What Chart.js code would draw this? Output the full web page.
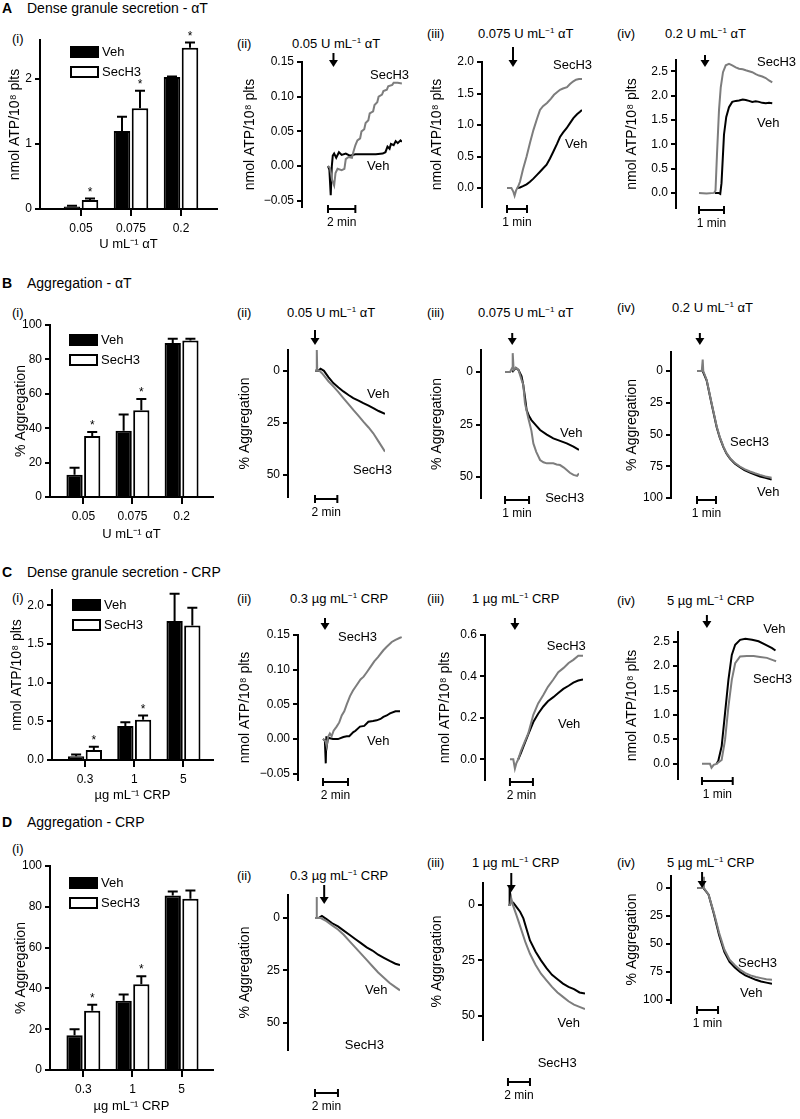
<!DOCTYPE html>
<html>
<head>
<meta charset="utf-8">
<title>SecH3 – dense granule secretion and aggregation</title>
<script src="https://cdn.jsdelivr.net/npm/chart.js@4.4.1/dist/chart.umd.min.js"></script>
<style>
  html, body { margin: 0; padding: 0; background: #fff; }
  body { position: relative; width: 800px; height: 1119px; overflow: hidden;
         font-family: "Liberation Sans", Arial, sans-serif; color: #000; }
  canvas { position: absolute; }
  .lbl { position: absolute; white-space: nowrap; font-size: 13px; line-height: 15px; transform: translateY(-50%); }
  .head { font-size: 14px; }
  .head b { display: inline-block; width: 25px; }
  sup { font-size: 8px; vertical-align: 5px; line-height: 0; }
</style>
</head>
<body>
<script>
const FONT = '"Liberation Sans", Arial, sans-serif';
const GREY = '#7d7d7d';
const TITLE_PX = 14, TICK_PX = 12;

// ---- bar chart data (mean, error) ----
const doseThrombin = ['0.05', '0.075', '0.2'];
const doseCRP = ['0.3', '1', '5'];

const atpThrVeh = [0.04, 1.20, 2.03];
const atpThrVehErr = [0.01, 0.22, 0.01];
const atpThrSec = [0.14, 1.55, 2.48];
const atpThrSecErr = [0.02, 0.27, 0.08];
const atpThrSig = [true, true, true];

const aggThrVeh = [13, 38.5, 89.5];
const aggThrVehErr = [4, 9.5, 2.5];
const aggThrSec = [35.5, 50.5, 91];
const aggThrSecErr = [2.3, 6.5, 1];
const aggThrSig = [true, true, false];

const atpCrpVeh = [0.05, 0.44, 1.80];
const atpCrpVehErr = [0.02, 0.05, 0.35];
const atpCrpSec = [0.13, 0.52, 1.74];
const atpCrpSecErr = [0.04, 0.055, 0.23];
const atpCrpSig = [true, true, false];

const aggCrpVeh = [17, 34, 85.5];
const aggCrpVehErr = [3, 3, 2];
const aggCrpSec = [29, 42, 84];
const aggCrpSecErr = [3, 4, 4];
const aggCrpSig = [true, true, false];

// ---- tick values ----
const ticksAtp012 = [0, 1, 2];
const ticksPct = [0, 20, 40, 60, 80, 100];
const ticksAtpSmall = [-0.05, 0, 0.05, 0.10, 0.15];
const ticksAtp2 = [0, 0.5, 1, 1.5, 2];
const ticksAtp25 = [0, 0.5, 1, 1.5, 2, 2.5];
const ticksAtp06 = [0, 0.2, 0.4, 0.6];
const ticksAgg50 = [0, 25, 50];
const ticksAgg100 = [0, 25, 50, 75, 100];

// ---- traces: [minutes, value] ----
const trA2Sec = [[0,0],[0.15,-0.003],[0.3,-0.02],[0.45,-0.028],[0.55,-0.01],[0.7,-0.004],[1.0,-0.006],[1.2,-0.004],[1.3,0.01],[1.5,0.013],[1.75,0.012],[1.85,0.02],[2.0,0.03],[2.15,0.037],[2.35,0.04],[2.45,0.05],[2.65,0.053],[2.75,0.062],[2.95,0.066],[3.05,0.076],[3.3,0.079],[3.4,0.088],[3.6,0.092],[3.7,0.1],[3.95,0.103],[4.05,0.108],[4.3,0.11],[4.4,0.115],[4.7,0.117],[4.8,0.12],[5.1,0.12],[5.4,0.119]];
const trA2Veh = [[0,0],[0.1,-0.005],[0.2,-0.042],[0.28,0.0],[0.35,0.015],[0.45,0.018],[0.6,0.012],[0.8,0.02],[1.0,0.016],[1.3,0.018],[1.6,0.015],[2.0,0.017],[2.5,0.017],[3.0,0.017],[3.5,0.017],[4.0,0.018],[4.2,0.02],[4.35,0.028],[4.5,0.025],[4.6,0.032],[4.8,0.03],[4.95,0.036],[5.1,0.033],[5.3,0.037],[5.4,0.035]];
const trA3Sec = [[0,0],[0.22,0],[0.32,-0.06],[0.38,-0.12],[0.45,-0.04],[0.55,0.02],[0.65,0.1],[0.8,0.3],[0.98,0.5],[1.15,0.72],[1.32,0.92],[1.5,1.1],[1.65,1.24],[1.8,1.3],[2.0,1.35],[2.2,1.42],[2.35,1.48],[2.5,1.52],[2.65,1.56],[2.8,1.58],[3.0,1.6],[3.15,1.65],[3.3,1.69],[3.45,1.72],[3.6,1.73],[3.75,1.73]];
const trA3Veh = [[0.5,0],[0.65,0.01],[0.8,0.03],[0.98,0.06],[1.15,0.1],[1.32,0.15],[1.5,0.21],[1.65,0.26],[1.8,0.31],[1.98,0.37],[2.15,0.47],[2.32,0.58],[2.5,0.7],[2.65,0.81],[2.8,0.88],[2.98,0.95],[3.15,1.03],[3.32,1.11],[3.5,1.17],[3.65,1.21],[3.75,1.24]];
const trA4Sec = [[0,0],[0.3,-0.01],[0.6,0],[0.66,0.05],[0.72,0.8],[0.8,1.7],[0.87,2.17],[0.96,2.48],[1.07,2.62],[1.2,2.65],[1.33,2.62],[1.47,2.58],[1.6,2.55],[1.75,2.54],[1.87,2.52],[2.0,2.5],[2.13,2.48],[2.27,2.44],[2.4,2.41],[2.53,2.39],[2.67,2.36],[2.8,2.31],[2.93,2.27]];
const trA4Veh = [[0.64,0],[0.78,0],[0.85,-0.02],[0.9,0.2],[0.95,0.7],[1.0,1.2],[1.09,1.56],[1.2,1.76],[1.33,1.87],[1.47,1.89],[1.6,1.9],[1.75,1.92],[1.87,1.91],[2.0,1.89],[2.13,1.87],[2.27,1.88],[2.4,1.87],[2.53,1.85],[2.67,1.84],[2.8,1.85],[2.93,1.84]];

const trB2Sec = [[0,0],[0.15,0],[0.16,-10],[0.2,0],[0.4,0],[0.6,1],[0.75,2],[1.2,5],[1.64,7.5],[2.1,10.2],[2.54,13.1],[3.0,16],[3.43,18.8],[3.9,21.6],[4.33,24.4],[4.8,27.2],[5.22,30],[5.7,34],[6.27,38.8]];
const trB2Veh = [[0,0],[0.3,0],[0.5,-1],[0.8,0],[1.2,3],[1.64,5.9],[2.1,8],[2.54,9.9],[3.0,11.6],[3.43,13.1],[3.9,14.3],[4.33,15.5],[4.8,16.7],[5.22,17.9],[5.7,19.3],[6.27,20.7]];
const trB3Sec = [[0,0],[0.21,0],[0.3,-2],[0.32,-9],[0.36,-1],[0.45,-2],[0.56,-1],[0.69,3.8],[0.76,6],[0.83,14.9],[0.97,22],[1.1,28],[1.18,34],[1.3,38],[1.46,41.9],[1.6,43],[1.74,43.5],[2.01,43.5],[2.15,44],[2.29,44.3],[2.45,45.5],[2.57,46.7],[2.7,48],[2.85,49],[3.0,49.5],[3.08,48.3]];
const trB3Veh = [[0.3,0],[0.45,-2],[0.56,-1],[0.69,2],[0.76,6.2],[0.83,12],[0.9,18.1],[1.0,21],[1.1,22.9],[1.3,25.5],[1.46,27.6],[1.74,29.8],[2.01,31.6],[2.29,32.8],[2.57,34],[2.85,35.5],[3.08,37.1]];
const trB4Sec = [[0,0],[0.25,0],[0.3,-9],[0.33,0],[0.51,7],[0.77,25.4],[1.04,43.8],[1.2,52],[1.39,59.5],[1.55,64.5],[1.74,68.6],[2.0,72.5],[2.26,75.2],[2.5,77.3],[2.79,79.1],[3.05,80.5],[3.32,81.8],[3.6,83],[3.93,84]];
const trB4Veh = [[0,0],[0.3,0],[0.51,7.5],[0.77,26],[1.04,44.5],[1.2,52.5],[1.39,60],[1.55,65],[1.74,69],[2.0,73],[2.26,75.8],[2.5,78],[2.79,80],[3.05,81.5],[3.32,83],[3.6,84],[3.93,85.5]];

const trC2Sec = [[0,0],[0.2,-0.003],[0.29,-0.01],[0.4,0.003],[0.55,0.008],[0.69,0.004],[0.85,0.012],[1.09,0.018],[1.3,0.024],[1.5,0.034],[1.7,0.04],[1.9,0.05],[2.16,0.062],[2.4,0.07],[2.7,0.078],[3.0,0.086],[3.25,0.09],[3.49,0.096],[3.8,0.104],[4.1,0.112],[4.4,0.118],[4.83,0.128],[5.1,0.133],[5.5,0.14],[5.8,0.143],[6.16,0.146],[6.3,0.147]];
const trC2Veh = [[0,0],[0.15,-0.002],[0.22,-0.035],[0.27,0.004],[0.32,-0.008],[0.4,0.002],[0.8,0.0],[1.2,0.0],[1.63,0.003],[1.9,0.004],[2.1,0.004],[2.43,0.01],[2.6,0.012],[2.96,0.018],[3.3,0.019],[3.63,0.025],[4.0,0.026],[4.29,0.027],[4.6,0.029],[4.83,0.032],[5.1,0.034],[5.36,0.037],[5.8,0.04],[6.16,0.04]];
const trC3Sec = [[0,0],[0.29,0],[0.43,-0.045],[0.55,-0.02],[0.72,0.0],[0.95,0.04],[1.16,0.068],[1.59,0.125],[2.03,0.215],[2.45,0.27],[2.9,0.31],[3.3,0.35],[3.77,0.385],[4.2,0.42],[4.64,0.44],[5.1,0.465],[5.51,0.48],[5.94,0.50],[6.35,0.50]];
const trC3Veh = [[0.72,0],[0.95,0.03],[1.16,0.06],[1.59,0.12],[2.03,0.18],[2.45,0.22],[2.9,0.255],[3.3,0.28],[3.77,0.30],[4.2,0.32],[4.64,0.34],[5.1,0.355],[5.51,0.37],[5.94,0.38],[6.35,0.385]];
const trC4Sec = [[0,0],[0.26,0],[0.31,-0.08],[0.38,-0.02],[0.47,0],[0.64,0.08],[0.75,0.49],[0.86,1.17],[0.97,1.72],[1.08,2.06],[1.24,2.2],[1.46,2.21],[1.68,2.21],[1.89,2.19],[2.11,2.17],[2.33,2.12],[2.41,2.1]];
const trC4Veh = [[0.47,0],[0.53,0.06],[0.64,0.36],[0.75,1.04],[0.86,1.72],[0.97,2.23],[1.08,2.44],[1.24,2.54],[1.41,2.56],[1.63,2.54],[1.84,2.51],[2.06,2.44],[2.28,2.37],[2.39,2.32]];

const trD2Sec = [[0,0],[0.12,0],[0.14,-10],[0.17,0],[0.5,0],[1.0,1.5],[1.5,3.5],[2.0,5.5],[2.5,8],[3.0,11],[3.5,14],[4.0,17],[4.5,20],[5.0,23],[5.5,26],[6.0,28.5],[6.5,31],[7.0,33],[7.4,34.5]];
const trD2Veh = [[0,0],[0.3,0],[0.6,-1],[1.0,0.5],[1.5,2.5],[2.0,4],[2.5,6],[3.0,8],[3.5,10],[4.0,12],[4.5,14],[5.0,15.5],[5.5,17.5],[6.0,19],[6.5,20.5],[7.0,21.8],[7.4,22.5]];
const trD3Sec = [[0,0],[0.2,0],[0.3,-3],[0.45,0],[0.8,5],[1.2,11],[1.6,17],[2.0,22],[2.5,27],[3.0,31],[3.5,34],[4.0,37],[4.5,39.5],[5.0,41.5],[5.5,43.5],[6.0,45],[6.5,46],[7.0,47]];
const trD3Veh = [[0.1,0],[0.15,-8],[0.25,-2],[0.5,-1],[0.8,1],[1.1,3],[1.4,6],[1.7,11],[2.0,16],[2.5,21],[3.0,25],[3.5,28.5],[4.0,31.5],[4.5,33.5],[5.0,35.5],[5.5,37],[6.0,38],[6.5,39.5],[7.0,40]];
const trD4Sec = [[0,0],[0.25,0],[0.3,-10],[0.33,0],[0.55,6],[0.8,22],[1.05,40],[1.3,55],[1.55,64],[1.8,69],[2.05,73],[2.3,76],[2.55,78],[2.8,79.5],[3.05,80.5],[3.3,81.5],[3.57,82]];
const trD4Veh = [[0,0],[0.3,0],[0.55,6],[0.8,23],[1.05,42],[1.3,57],[1.55,66],[1.8,71],[2.05,75],[2.3,78],[2.55,80],[2.8,82],[3.05,83.5],[3.3,84.5],[3.57,85.5]];

const ATP_TITLE = 'nmol ATP/10⁸ plts';
const AGG_TITLE = '% Aggregation';

// ---- panel layouts ----
const barPanels = [
  { area: [40, 40, 217, 209], titleX: 15, titleY: 244, xr: [-0.82, 2.72], yMax: 2.6, ticks: ticksAtp012, dec: 0,
    cats: doseThrombin, veh: atpThrVeh, vehErr: atpThrVehErr, sec: atpThrSec, secErr: atpThrSecErr, sig: atpThrSig,
    yTitle: ATP_TITLE, xTitle: 'U mL⁻¹ αT', legend: [31, 7] },
  { area: [50, 325, 213, 497], titleX: 21, titleY: 534, xr: [-0.68, 2.64], yMax: 100, ticks: ticksPct, dec: 0,
    cats: doseThrombin, veh: aggThrVeh, vehErr: aggThrVehErr, sec: aggThrSec, secErr: aggThrSecErr, sig: aggThrSig,
    yTitle: AGG_TITLE, xTitle: 'U mL⁻¹ αT', legend: [20, 10] },
  { area: [52, 590, 213, 760], titleX: 17, titleY: 795, xr: [-0.67, 2.6], yMax: 2.2, ticks: ticksAtp2, dec: 1,
    cats: doseCRP, veh: atpCrpVeh, vehErr: atpCrpVehErr, sec: atpCrpSec, secErr: atpCrpSecErr, sig: atpCrpSig,
    yTitle: ATP_TITLE, xTitle: 'µg mL⁻¹ CRP', legend: [21, 10] },
  { area: [50, 866, 213, 1070], titleX: 21, titleY: 1106, xr: [-0.68, 2.64], yMax: 100, ticks: ticksPct, dec: 0,
    cats: doseCRP, veh: aggCrpVeh, vehErr: aggCrpVehErr, sec: aggCrpSec, secErr: aggCrpSecErr, sig: aggCrpSig,
    yTitle: AGG_TITLE, xTitle: 'µg mL⁻¹ CRP', legend: [20, 12] },
];

const tracePanels = [
  { area: [302, 62, 402, 207], titleX: 250, xr: [-1.90, 5.41], yr: [-0.059, 0.15], ticks: ticksAtpSmall, dec: 2,
    sec: trA2Sec, veh: trA2Veh, yTitle: ATP_TITLE, arrow: [0.4, -9, 5], bar: [2, '2 min', 2],
    labels: [['SecH3', 3.07, 0.131], ['Veh', 2.85, 0.0]] },
  { area: [482, 62, 582, 207], titleX: 437, xr: [-1.25, 3.75], yr: [-0.3, 2.0], ticks: ticksAtp2, dec: 1,
    sec: trA3Sec, veh: trA3Veh, yTitle: ATP_TITLE, arrow: [0.3, -15, 5], bar: [1, '1 min', 2],
    labels: [['SecH3', 2.3, 1.95], ['Veh', 2.9, 0.70]] },
  { area: [676, 60, 773, 208], titleX: 632, xr: [-0.92, 2.96], yr: [-0.31, 2.73], ticks: ticksAtp25, dec: 1,
    sec: trA4Sec, veh: trA4Veh, yTitle: ATP_TITLE, arrow: [0.24, -5, 7], bar: [1, '1 min', 2],
    labels: [['SecH3', 2.32, 2.68], ['Veh', 2.32, 1.43]] },

  { area: [288, 350, 385, 497], titleX: 245, xr: [-2.42, 6.27], yr: [-10, 60.6], rev: true, ticks: ticksAgg50, dec: 0,
    sec: trB2Sec, veh: trB2Veh, yTitle: AGG_TITLE, arrow: [0, -20, -5], bar: [2, '2 min', 2],
    labels: [['Veh', 4.66, 11.5], ['SecH3', 3.4, 47.6]] },
  { area: [481, 350, 579, 498], titleX: 437, xr: [-1.0, 3.08], yr: [-10.5, 60], rev: true, ticks: ticksAgg50, dec: 0,
    sec: trB3Sec, veh: trB3Veh, yTitle: AGG_TITLE, arrow: [0.3, -17, -5], bar: [1, '1 min', 2],
    labels: [['Veh', 2.29, 29], ['SecH3', 1.67, 60]] },
  { area: [671, 352, 772, 498], titleX: 632, xr: [-1.37, 3.95], yr: [-15, 100], rev: true, ticks: ticksAgg100, dec: 0,
    sec: trB4Sec, veh: trB4Veh, yTitle: AGG_TITLE, arrow: [0.15, -19, -7], bar: [1, '1 min', 2],
    labels: [['SecH3', 1.74, 56.6], ['Veh', 3.16, 95.9]] },

  { area: [298, 635, 402, 780], titleX: 245, xr: [-2.0, 6.32], yr: [-0.059, 0.15], ticks: ticksAtpSmall, dec: 2,
    sec: trC2Sec, veh: trC2Veh, yTitle: ATP_TITLE, arrow: [0.16, -17, -5], bar: [2, '2 min', 2],
    labels: [['SecH3', 1.2, 0.146], ['Veh', 3.52, -0.004]] },
  { area: [485, 635, 583, 780], titleX: 445, xr: [-2.17, 6.35], yr: [-0.1, 0.6], ticks: ticksAtp06, dec: 1,
    sec: trC3Sec, veh: trC3Veh, yTitle: ATP_TITLE, arrow: [0.43, -17, -5], bar: [2, '2 min', 2],
    labels: [['SecH3', 3.2, 0.546], ['Veh', 4.17, 0.166]] },
  { area: [678, 632, 777, 779], titleX: 632, xr: [-0.78, 2.44], yr: [-0.31, 2.7], ticks: ticksAtp25, dec: 1,
    sec: trC4Sec, veh: trC4Veh, yTitle: ATP_TITLE, arrow: [0.16, -17, -4], bar: [1, '1 min', 2],
    labels: [['Veh', 1.99, 2.75], ['SecH3', 1.66, 1.72]] },

  { area: [288, 895, 400, 1050], titleX: 245, xr: [-2.35, 7.4], yr: [-11, 63], rev: true, ticks: ticksAgg50, dec: 0,
    sec: trD2Sec, veh: trD2Veh, yTitle: AGG_TITLE, arrow: [0.8, -10, 9], bar: [2, '2 min', 43],
    labels: [['Veh', 4.35, 34.6], ['SecH3', 2.6, 61]] },
  { area: [483, 883, 585, 1040], titleX: 437, xr: [-2.27, 7.0], yr: [-10, 61], rev: true, ticks: ticksAgg50, dec: 0,
    sec: trD3Sec, veh: trD3Veh, yTitle: AGG_TITLE, arrow: [0.3, -10, 9], bar: [2, '2 min', 42],
    labels: [['Veh', 4.5, 53.6], ['SecH3', 2.7, 71.8]] },
  { area: [671, 876, 772, 1003], titleX: 632, xr: [-1.24, 3.57], yr: [-10.7, 102.7], rev: true, ticks: ticksAgg100, dec: 0,
    sec: trD4Sec, veh: trD4Veh, yTitle: AGG_TITLE, arrow: [0.24, -4, 12], bar: [1, '1 min', 7],
    labels: [['SecH3', 1.95, 67], ['Veh', 2.05, 93.8]] },
];

// ---- HTML text: [html, left, centre y, class] ----
const texts = [
  ['<b>A</b>Dense granule secretion - αT', 2, 8, 'head'],
  ['(i)', 12, 38], ['(ii)', 237, 43], ['0.05 U mL<sup>−1</sup> αT', 292, 43],
  ['(iii)', 427, 33], ['0.075 U mL<sup>−1</sup> αT', 478, 33],
  ['(iv)', 617, 33], ['0.2 U mL<sup>−1</sup> αT', 665, 33],
  ['<b>B</b>Aggregation - αT', 2, 283, 'head'],
  ['(i)', 12, 312], ['(ii)', 237, 312], ['0.05 U mL<sup>−1</sup> αT', 287, 312],
  ['(iii)', 427, 312], ['0.075 U mL<sup>−1</sup> αT', 478, 312],
  ['(iv)', 617, 307], ['0.2 U mL<sup>−1</sup> αT', 672, 307],
  ['<b>C</b>Dense granule secretion - CRP', 2, 572, 'head'],
  ['(i)', 12, 597], ['(ii)', 237, 598], ['0.3 µg mL<sup>−1</sup> CRP', 290, 598],
  ['(iii)', 427, 598], ['1 µg mL<sup>−1</sup> CRP', 472, 598],
  ['(iv)', 617, 600], ['5 µg mL<sup>−1</sup> CRP', 667, 600],
  ['<b>D</b>Aggregation - CRP', 2, 822, 'head'],
  ['(i)', 12, 848], ['(ii)', 237, 875], ['0.3 µg mL<sup>−1</sup> CRP', 290, 875],
  ['(iii)', 427, 862], ['1 µg mL<sup>−1</sup> CRP', 472, 862],
  ['(iv)', 617, 862], ['5 µg mL<sup>−1</sup> CRP', 667, 862],
];

texts.forEach(([html, x, y, cls]) => {
  const d = document.createElement('div');
  d.className = 'lbl' + (cls ? ' ' + cls : '');
  d.innerHTML = html;
  d.style.left = x + 'px';
  d.style.top = y + 'px';
  document.body.appendChild(d);
});

// ---- drawing helpers ----
const fmt = (v, dec) => v.toFixed(dec).replace('-', '−');

const annotate = {
  id: 'annotate',
  afterDatasetsDraw(chart, args, o) {
    const { ctx, chartArea: ca } = chart;
    const xs = chart.scales.x, ys = chart.scales.y;
    ctx.save();
    ctx.strokeStyle = '#000';
    ctx.fillStyle = '#000';
    ctx.lineWidth = 2;
    if (o.errorBars) {
      chart.data.datasets.forEach((ds, di) => {
        chart.getDatasetMeta(di).data.forEach((bar, i) => {
          const top = ys.getPixelForValue(ds.data[i].y + ds.errs[i]);
          ctx.beginPath();
          ctx.moveTo(bar.x, bar.y);
          ctx.lineTo(bar.x, top);
          ctx.moveTo(bar.x - 5, top);
          ctx.lineTo(bar.x + 5, top);
          ctx.stroke();
          if (ds.sig && ds.sig[i]) {
            ctx.font = '12px ' + FONT;
            ctx.textAlign = 'center';
            ctx.textBaseline = 'alphabetic';
            ctx.fillText('*', bar.x, top - 3);
          }
        });
      });
    }
    if (o.legend) {
      ctx.font = '13px ' + FONT;
      ctx.textAlign = 'left';
      ctx.textBaseline = 'middle';
      chart.data.datasets.forEach((ds, i) => {
        const bx = ca.left + o.legend[0], by = ca.top + o.legend[1] + i * 20;
        ctx.fillStyle = ds.backgroundColor;
        ctx.fillRect(bx, by, 27, 10);
        ctx.strokeRect(bx, by, 27, 10);
        ctx.fillStyle = '#000';
        ctx.fillText(ds.label, bx + 31, by + 5);
      });
    }
    if (o.arrow) {
      const ax = xs.getPixelForValue(o.arrow[0]);
      const y1 = ca.top + o.arrow[1], y2 = ca.top + o.arrow[2];
      ctx.beginPath();
      ctx.moveTo(ax, y1);
      ctx.lineTo(ax, y2 - 5);
      ctx.stroke();
      ctx.beginPath();
      ctx.moveTo(ax - 4.5, y2 - 7);
      ctx.lineTo(ax + 4.5, y2 - 7);
      ctx.lineTo(ax, y2);
      ctx.closePath();
      ctx.fill();
    }
    if (o.bar) {
      const x0 = xs.getPixelForValue(0), x1 = xs.getPixelForValue(o.bar[0]);
      const yb = ca.bottom + o.bar[2];
      ctx.beginPath();
      ctx.moveTo(x0, yb); ctx.lineTo(x1, yb);
      ctx.moveTo(x0, yb - 4); ctx.lineTo(x0, yb + 4);
      ctx.moveTo(x1, yb - 4); ctx.lineTo(x1, yb + 4);
      ctx.stroke();
      ctx.font = '12px ' + FONT;
      ctx.textAlign = 'center';
      ctx.textBaseline = 'middle';
      ctx.fillText(o.bar[1], (x0 + x1) / 2, yb + 14);
    }
    if (o.labels) {
      ctx.font = '13px ' + FONT;
      ctx.textAlign = 'left';
      ctx.textBaseline = 'middle';
      o.labels.forEach(([txt, t, v]) => ctx.fillText(txt, xs.getPixelForValue(t), ys.getPixelForValue(v)));
    }
    ctx.restore();
  }
};

function makeCanvas(area, yW, xH) {
  const left = area[0] - yW - 4, top = area[1] - 40;
  const w = area[2] + 50 - left, h = area[3] + 70 + xH - top;
  const c = document.createElement('canvas');
  c.width = w; c.height = h;
  c.style.left = left + 'px'; c.style.top = top + 'px';
  c.style.width = w + 'px'; c.style.height = h + 'px';
  document.body.appendChild(c);
  return c;
}

function yAxis(p, yW, min, max) {
  return {
    type: 'linear', min, max, reverse: !!p.rev,
    afterFit: s => { s.width = yW; },
    afterBuildTicks: s => { s.ticks = p.ticks.map(v => ({ value: v })); },
    ticks: { callback: v => fmt(v, p.dec), font: { family: FONT, size: TICK_PX }, color: '#000', padding: 3 },
    grid: { display: true, drawOnChartArea: false, drawTicks: true, tickLength: 5, color: '#000', lineWidth: 2 },
    border: { display: true, color: '#000', width: 2 },
    title: { display: true, text: p.yTitle, font: { family: FONT, size: TITLE_PX }, color: '#000', padding: 0 },
  };
}

const baseOptions = (pluginOpts) => ({
  responsive: false, animation: false, events: [],
  layout: { padding: { left: 4, top: 40, right: 50, bottom: 70 } },
  plugins: { legend: { display: false }, tooltip: { enabled: false }, annotate: pluginOpts },
});

barPanels.forEach(p => {
  const yW = Math.round(p.area[0] - p.titleX + TITLE_PX * 0.6);
  const xH = Math.round(p.titleY - p.area[3] + TITLE_PX * 0.6);
  const cv = makeCanvas(p.area, yW, xH);
  const opts = baseOptions({ errorBars: true, legend: p.legend });
  opts.scales = {
    x: {
      type: 'linear', min: p.xr[0], max: p.xr[1], offset: false,
      afterFit: s => { s.height = xH; },
      afterBuildTicks: s => { s.ticks = p.cats.map((c, i) => ({ value: i })); },
      ticks: { callback: v => p.cats[v], font: { family: FONT, size: TICK_PX }, color: '#000', padding: 5, maxRotation: 0, autoSkip: false },
      grid: { display: true, drawOnChartArea: false, drawTicks: true, tickLength: 7, color: '#000', lineWidth: 2, offset: false },
      border: { display: true, color: '#000', width: 2 },
      title: { display: true, text: p.xTitle, font: { family: FONT, size: 13 }, color: '#000', padding: 0 },
    },
    y: yAxis(p, yW, 0, p.yMax),
  };
  new Chart(cv, {
    type: 'bar',
    data: {
      datasets: [
        { label: 'Veh', data: p.cats.map((c, i) => ({ x: i, y: p.veh[i] })), errs: p.vehErr,
          backgroundColor: '#000', borderColor: '#000', borderWidth: 2 },
        { label: 'SecH3', data: p.cats.map((c, i) => ({ x: i, y: p.sec[i] })), errs: p.secErr, sig: p.sig,
          backgroundColor: '#fff', borderColor: '#000', borderWidth: 2 },
      ],
    },
    options: Object.assign(opts, { categoryPercentage: 0.72, barPercentage: 0.92 }),
    plugins: [annotate],
  });
});

tracePanels.forEach(p => {
  const yW = Math.round(p.area[0] - p.titleX + TITLE_PX * 0.6);
  const cv = makeCanvas(p.area, yW, 0);
  const opts = baseOptions({ arrow: p.arrow, bar: p.bar, labels: p.labels });
  opts.scales = {
    x: { type: 'linear', display: false, min: p.xr[0], max: p.xr[1], afterFit: s => { s.height = 0; } },
    y: yAxis(p, yW, p.yr[0], p.yr[1]),
  };
  opts.elements = { point: { radius: 0 }, line: { borderWidth: 2, tension: 0 } };
  new Chart(cv, {
    type: 'line',
    data: {
      datasets: [
        { label: 'SecH3', data: p.sec.map(([x, y]) => ({ x, y })), borderColor: GREY },
        { label: 'Veh', data: p.veh.map(([x, y]) => ({ x, y })), borderColor: '#000' },
      ],
    },
    options: opts,
    plugins: [annotate],
  });
});
</script>
</body>
</html>
